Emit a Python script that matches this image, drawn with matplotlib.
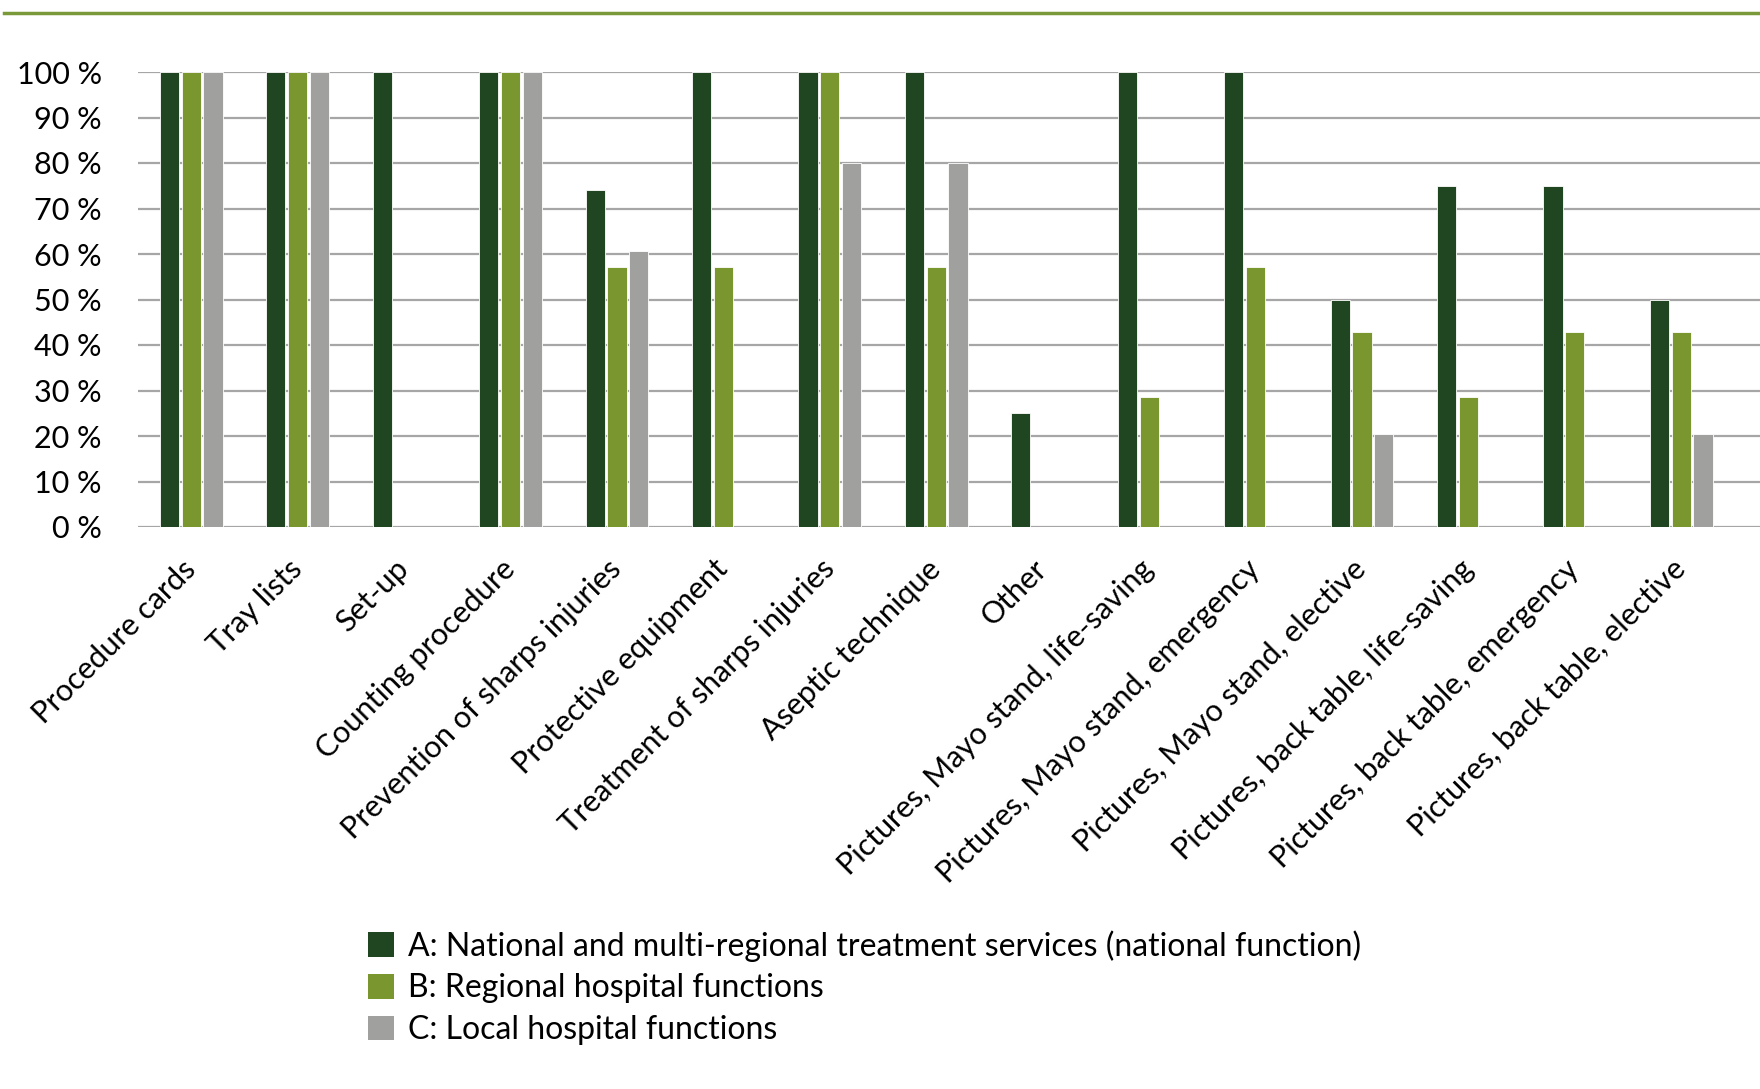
import matplotlib
matplotlib.use("Agg")
import matplotlib.pyplot as plt
import numpy as np
from matplotlib.patches import Patch
from matplotlib.lines import Line2D
from matplotlib.ticker import FuncFormatter

categories = [
    "Procedure cards", "Tray lists", "Set-up", "Counting procedure",
    "Prevention of sharps injuries", "Protective equipment",
    "Treatment of sharps injuries", "Aseptic technique", "Other",
    "Pictures, Mayo stand, life-saving", "Pictures, Mayo stand, emergency",
    "Pictures, Mayo stand, elective", "Pictures, back table, life-saving",
    "Pictures, back table, emergency", "Pictures, back table, elective",
]
series_a = [100, 100, 100, 100, 74, 100, 100, 100, 25, 100, 100, 50, 75, 75, 50]
series_b = [100, 100, 0, 100, 57.1, 57.1, 100, 57.1, 0, 28.6, 57.1, 42.9, 28.6, 42.9, 42.9]
series_c = [100, 100, 0, 100, 60.6, 0, 80, 80, 0, 0, 0, 20.5, 0, 0, 20.5]
series_labels = [
    "A: National and multi-regional treatment services (national function)",
    "B: Regional hospital functions",
    "C: Local hospital functions",
]
yticks = [0, 10, 20, 30, 40, 50, 60, 70, 80, 90, 100]

colors = ["#1f4621", "#7a962f", "#a0a09f"]
FONT = "Lato"
FS = 22
FS_LEG = 23

plt.rcParams["font.family"] = [FONT, "DejaVu Sans"]

W, H = 1760, 1089
fig = plt.figure(figsize=(W / 100, H / 100), dpi=100)
ax = fig.add_axes([138 / W, 1 - 527 / H, (W - 138) / W, (527 - 72) / H])

x = np.arange(len(categories))
bw = 0.18
off = 0.205
for vals, dx, c in zip([series_a, series_b, series_c], [-off, 0, off], colors):
    ax.bar(x + dx, vals, width=bw, color=c, edgecolor="white", linewidth=0.6, zorder=3)

ax.set_ylim(0, 100)
ax.set_xlim(-0.5, 14.74)
ax.set_yticks(yticks)
ax.yaxis.set_major_formatter(FuncFormatter(lambda v, p: f"{int(v)} %"))
ax.grid(axis="y", color="#a6a6a6", linewidth=1.6, zorder=0)
ax.set_axisbelow(True)
for s in ax.spines.values():
    s.set_visible(False)
ax.tick_params(axis="y", length=0, pad=26, labelsize=FS)
ax.tick_params(axis="x", length=0, pad=27, labelsize=FS)
ax.set_xticks(x)
ax.set_xticklabels(categories, rotation=45, ha="right", va="center", rotation_mode="anchor")

# top decorative line
fig.add_artist(Line2D([4 / W, 1.0], [1 - 13 / H, 1 - 13 / H], color="#7a9a3a", linewidth=2.5))

handles = [Patch(facecolor=c, edgecolor="none") for c in colors]
fig.legend(handles, series_labels, loc="upper left", bbox_to_anchor=(368 / W, 1 - 930 / H),
           frameon=False, fontsize=FS_LEG, handlelength=0.8, handleheight=0.8,
           handletextpad=0.45, labelspacing=0.37, borderpad=0, borderaxespad=0)

fig.savefig("out.png", dpi=100)
